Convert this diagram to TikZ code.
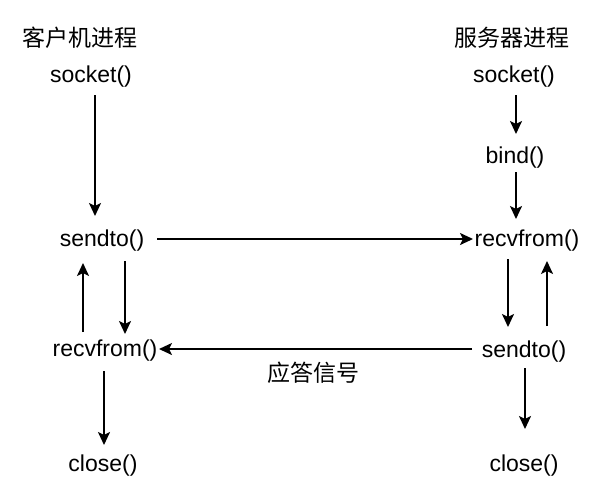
\documentclass[tikz,border=0pt]{standalone}
\usepackage{fontspec}
\setmainfont{Liberation Sans}
\newfontfamily\cjk{Noto Sans CJK SC}
\usetikzlibrary{arrows.meta}
\begin{document}
\begin{tikzpicture}[x=1pt,y=-1pt,
  lbl/.style={inner sep=0pt, font=\fontsize{23}{23}\selectfont},
  cn/.style={inner sep=0pt, font=\fontsize{23}{23}\selectfont\cjk},
  arr/.style={line width=2pt, -{Stealth[length=13pt,width=12pt,inset=3pt]}}]
\useasboundingbox (0,0) rectangle (604,496);
% titles
\node[cn] (tc) at (80,38) {客户机进程};
\node[cn] (ts) at (512,38) {服务器进程};
% client
\node[lbl] (cs) at (91,77) {socket()};
\node[lbl] (csend) at (102,241) {sendto()};
\node[lbl] (crecv) at (105,351) {recvfrom()};
\node[lbl] (cclose) at (103,466) {close()};
% server
\node[lbl] (ss) at (514,77) {socket()};
\node[lbl] (sb) at (515,158) {bind()};
\node[lbl] (srecv) at (527,241) {recvfrom()};
\node[lbl] (ssend) at (524,352) {sendto()};
\node[lbl] (sclose) at (524,466) {close()};
% label
\node[cn] (ans) at (313,373) {应答信号};
% coordinates
\coordinate (a1s) at (95,95); \coordinate (a1e) at (95,216);
\coordinate (b1s) at (516,95); \coordinate (b1e) at (516,134);
\coordinate (b2s) at (516,172); \coordinate (b2e) at (516,219);
\coordinate (h1s) at (157,239); \coordinate (h1e) at (473,239);
\coordinate (h2s) at (472,349); \coordinate (h2e) at (159,349);
\coordinate (u1s) at (83,332); \coordinate (u1e) at (83,263);
\coordinate (d1s) at (125,261); \coordinate (d1e) at (125,334);
\coordinate (d2s) at (508,259); \coordinate (d2e) at (508,327);
\coordinate (u2s) at (547,326); \coordinate (u2e) at (547,261);
\coordinate (c1s) at (104,371); \coordinate (c1e) at (104,445);
\coordinate (c2s) at (525,368); \coordinate (c2e) at (525,429);
\draw[arr] (a1s) -- (a1e);
\draw[arr] (b1s) -- (b1e);
\draw[arr] (b2s) -- (b2e);
\draw[arr] (h1s) -- (h1e);
\draw[arr] (h2s) -- (h2e);
\draw[arr] (u1s) -- (u1e);
\draw[arr] (d1s) -- (d1e);
\draw[arr] (d2s) -- (d2e);
\draw[arr] (u2s) -- (u2e);
\draw[arr] (c1s) -- (c1e);
\draw[arr] (c2s) -- (c2e);
\end{tikzpicture}
\end{document}
